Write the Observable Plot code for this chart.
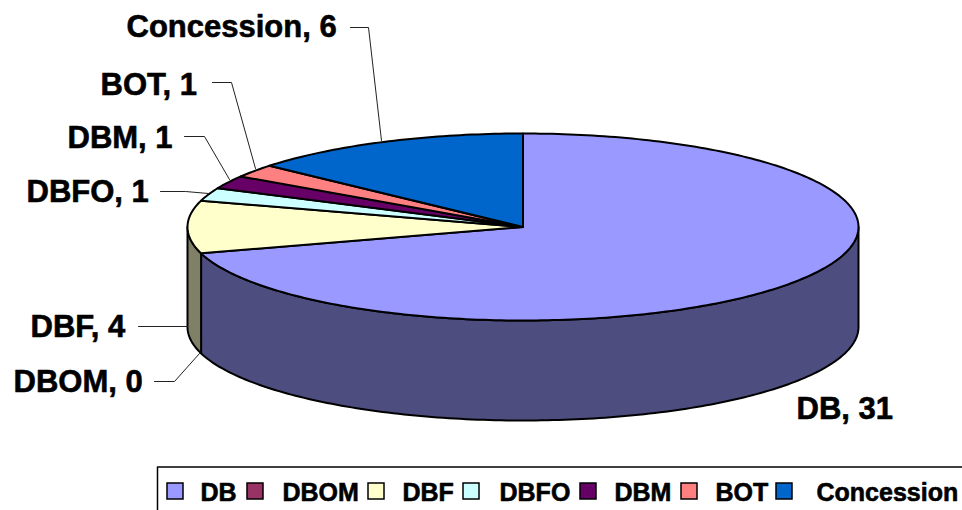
<!DOCTYPE html>
<html>
<head>
<meta charset="utf-8">
<script src="https://cdn.jsdelivr.net/npm/d3@7"></script>
<script src="https://cdn.jsdelivr.net/npm/@observablehq/plot@0.6"></script>
<style>
html,body{margin:0;padding:0;background:#fff;overflow:hidden}
svg{display:block}
</style>
</head>
<body>
<div id="chart"></div>
<script>
// Data
const categories = ["DB", "DBOM", "DBF", "DBFO", "DBM", "BOT", "Concession"];
const values = [31, 0, 4, 1, 1, 1, 6];
const topColors = ["#9999ff", "#993366", "#ffffcc", "#ccffff", "#660066", "#ff8080", "#0066cc"];
const sideColors = ["#4d4d80", "#4d1a33", "#808066", "#668080", "#330033", "#804040", "#003366"];

// Layout (not data)
const cx = 522.5, cy = 226.5, rx = 335.5, ry = 93.5, depth = 100;
const px = (a) => cx + rx * Math.sin(a);
const py = (a) => cy - ry * Math.cos(a);
const labelX = [796, 13, 30, 26, 67, 100, 126];
const labelBaseline = [419, 392, 337, 202, 148, 95, 37];
const leaders = [
  null,
  [[154, 381], [174, 381], [199, 353]],
  [[138, 326], [187, 326]],
  [[160, 191], [185, 191], [208, 193]],
  [[184, 136], [204, 136], [229, 179]],
  [[212, 82], [231, 82], [255, 168]],
  [[350, 27], [368, 27], [381, 140]]
];
const swatchX = [167, 247, 368, 463, 580, 681, 776];
const legendTextX = [200, 282, 402, 499, 614, 715, 816];

// Pie geometry derived from the values
const arcs = d3.pie().sort(null).startAngle(0).endAngle(2 * Math.PI)(values);
const arcAngles = (a0, a1) => {
  const n = Math.max(2, Math.ceil((a1 - a0) / (Math.PI / 180)) + 1);
  return d3.range(n).map((i) => a0 + (a1 - a0) * i / (n - 1));
};

const sidePoly = [];
arcs.forEach((d, i) => {
  const a0 = Math.max(d.startAngle, Math.PI / 2);
  const a1 = Math.min(d.endAngle, 3 * Math.PI / 2);
  if (a1 <= a0) return;
  const as = arcAngles(a0, a1);
  const pts = [
    ...as.map((a) => ({x: px(a), y: py(a)})),
    ...as.slice().reverse().map((a) => ({x: px(a), y: py(a) + depth}))
  ];
  pts.push(pts[0]);
  pts.forEach((p) => sidePoly.push({...p, key: "s" + i, fill: sideColors[i]}));
});

const topPoly = [];
arcs.forEach((d, i) => {
  if (d.endAngle <= d.startAngle) return;
  const pts = [{x: cx, y: cy}, ...arcAngles(d.startAngle, d.endAngle).map((a) => ({x: px(a), y: py(a)})), {x: cx, y: cy}];
  pts.forEach((p) => topPoly.push({...p, key: "t" + i, fill: topColors[i]}));
});

const leaderPts = leaders.flatMap((l, i) => l ? l.map(([x, y]) => ({x, y, key: categories[i]})) : []);

const labels = categories.map((c, i) => ({
  text: `${c}, ${values[i]}`, x: labelX[i], y: labelBaseline[i] - 10
}));
const legendSwatches = categories.map((c, i) => ({
  x1: swatchX[i], x2: swatchX[i] + 16, y1: 483, y2: 499, fill: topColors[i]
}));
const legendTexts = categories.map((c, i) => ({text: c, x: legendTextX[i], y: 492}));
const legendFrame = [{x: 157, y: 510}, {x: 157, y: 466.5}, {x: 962, y: 466.5}];

const font = "'Liberation Sans', Arial, sans-serif";

const plot = Plot.plot({
  width: 962,
  height: 510,
  margin: 0,
  x: {type: "identity", axis: null},
  y: {type: "identity", axis: null},
  style: {background: "#fff"},
  marks: [
    Plot.line(sidePoly, {x: "x", y: "y", z: "key", fill: "fill", stroke: "#000", strokeWidth: 2, curve: "linear"}),
    Plot.line(topPoly, {x: "x", y: "y", z: "key", fill: "fill", stroke: "#000", strokeWidth: 2, curve: "linear"}),
    Plot.line(leaderPts, {x: "x", y: "y", z: "key", stroke: "#222", strokeWidth: 1, curve: "linear"}),
    Plot.text(labels, {x: "x", y: "y", text: "text", textAnchor: "start", fontSize: 31, fontWeight: "bold", fontFamily: font, fill: "#000", stroke: "#000", strokeWidth: 0.6}),
    Plot.line(legendFrame, {x: "x", y: "y", stroke: "#000", strokeWidth: 1.5, curve: "linear"}),
    Plot.rect(legendSwatches, {x1: "x1", x2: "x2", y1: "y1", y2: "y2", fill: "fill", stroke: "#000", strokeWidth: 1.5}),
    Plot.text(legendTexts, {x: "x", y: "y", text: "text", textAnchor: "start", fontSize: 25, fontWeight: "bold", fontFamily: font, fill: "#000", stroke: "#000", strokeWidth: 0.6})
  ]
});
document.getElementById("chart").appendChild(plot);
</script>
</body>
</html>
